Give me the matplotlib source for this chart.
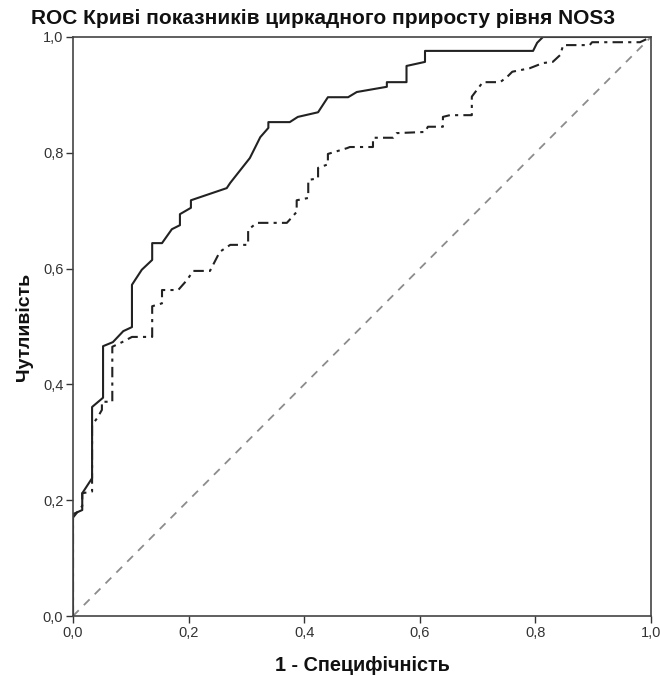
import matplotlib
matplotlib.use("Agg")
import matplotlib.pyplot as plt
from matplotlib.ticker import FuncFormatter

plt.rcParams['font.family'] = ['Liberation Sans', 'DejaVu Sans']

# Solid ROC curve (1 - specificity, sensitivity)
solid_fpr = [0.0, 0.0, 0.016, 0.016, 0.033, 0.033, 0.052, 0.052, 0.069, 0.087, 0.102,
             0.102, 0.119, 0.137, 0.137, 0.154, 0.171, 0.185, 0.185, 0.204, 0.204,
             0.266, 0.272, 0.306, 0.324, 0.338, 0.338, 0.375, 0.389, 0.424, 0.441,
             0.476, 0.491, 0.543, 0.543, 0.577, 0.577, 0.609, 0.609, 0.796, 0.803,
             0.813, 1.0]
solid_tpr = [0.0, 0.176, 0.183, 0.212, 0.238, 0.361, 0.377, 0.466, 0.473, 0.492, 0.499,
             0.572, 0.598, 0.615, 0.644, 0.644, 0.668, 0.675, 0.694, 0.705, 0.718,
             0.739, 0.748, 0.791, 0.827, 0.843, 0.853, 0.853, 0.862, 0.870, 0.896,
             0.896, 0.905, 0.914, 0.922, 0.922, 0.950, 0.957, 0.976, 0.976, 0.990,
             1.0, 1.0]

# Dash-dot ROC curve
dash_fpr = [0.0, 0.0, 0.016, 0.016, 0.033, 0.033, 0.042, 0.050, 0.050, 0.068, 0.068,
            0.085, 0.102, 0.137, 0.137, 0.154, 0.154, 0.182, 0.197, 0.208, 0.237,
            0.254, 0.272, 0.303, 0.303, 0.318, 0.370, 0.379, 0.387, 0.387, 0.407,
            0.407, 0.424, 0.424, 0.441, 0.441, 0.474, 0.479, 0.519, 0.519, 0.554,
            0.560, 0.609, 0.614, 0.640, 0.640, 0.652, 0.690, 0.690, 0.709, 0.739,
            0.751, 0.760, 0.790, 0.813, 0.830, 0.843, 0.848, 0.894, 0.898, 0.981,
            1.0]
dash_tpr = [0.0, 0.170, 0.190, 0.212, 0.215, 0.330, 0.342, 0.356, 0.370, 0.370, 0.465,
            0.473, 0.482, 0.482, 0.535, 0.540, 0.563, 0.563, 0.580, 0.596, 0.596,
            0.629, 0.641, 0.641, 0.667, 0.679, 0.679, 0.689, 0.698, 0.718, 0.722,
            0.753, 0.756, 0.774, 0.780, 0.798, 0.808, 0.810, 0.810, 0.826, 0.826,
            0.834, 0.836, 0.845, 0.845, 0.862, 0.865, 0.865, 0.897, 0.922, 0.922,
            0.931, 0.940, 0.946, 0.955, 0.957, 0.969, 0.986, 0.986, 0.991, 0.991,
            1.0]

ref_line = [0.0, 1.0]
ticks = [0.0, 0.2, 0.4, 0.6, 0.8, 1.0]

fig = plt.figure(figsize=(6.6, 6.76), dpi=100)
ax = fig.add_axes([73/660, 60/676, 578/660, 579/676])

ax.plot(ref_line, ref_line, color='#8c8c8c', lw=1.3, linestyle=(0, (4.5, 4)))
ax.plot(dash_fpr, dash_tpr, color='#222222', lw=1.5, linestyle=(0, (5, 2.5, 1.5, 2.5)))
ax.plot(solid_fpr, solid_tpr, color='#222222', lw=1.5)

ax.set_xlim(0, 1)
ax.set_ylim(0, 1)
ax.set_xticks(ticks)
ax.set_yticks(ticks)
fmt = FuncFormatter(lambda v, p: f"{v:.1f}".replace('.', ','))
ax.xaxis.set_major_formatter(fmt)
ax.yaxis.set_major_formatter(fmt)
ax.tick_params(direction='out', length=5, width=1, colors='#333333', labelsize=10.5,
               labelcolor='#333333', pad=2)
for s in ax.spines.values():
    s.set_color('#444444')
    s.set_linewidth(1.2)

ax.set_xlabel('1 - Специфічність', fontsize=14.3, fontweight='bold', labelpad=12, color='#111111')
ax.set_ylabel('Чутливість', fontsize=14, fontweight='bold', labelpad=7, color='#111111')
fig.text(0.489, 1 - 18/676, 'ROC Криві показників циркадного приросту рівня NOS3',
         ha='center', va='center', fontsize=15, fontweight='bold', color='#111111')

fig.savefig('out.png', dpi=100)
